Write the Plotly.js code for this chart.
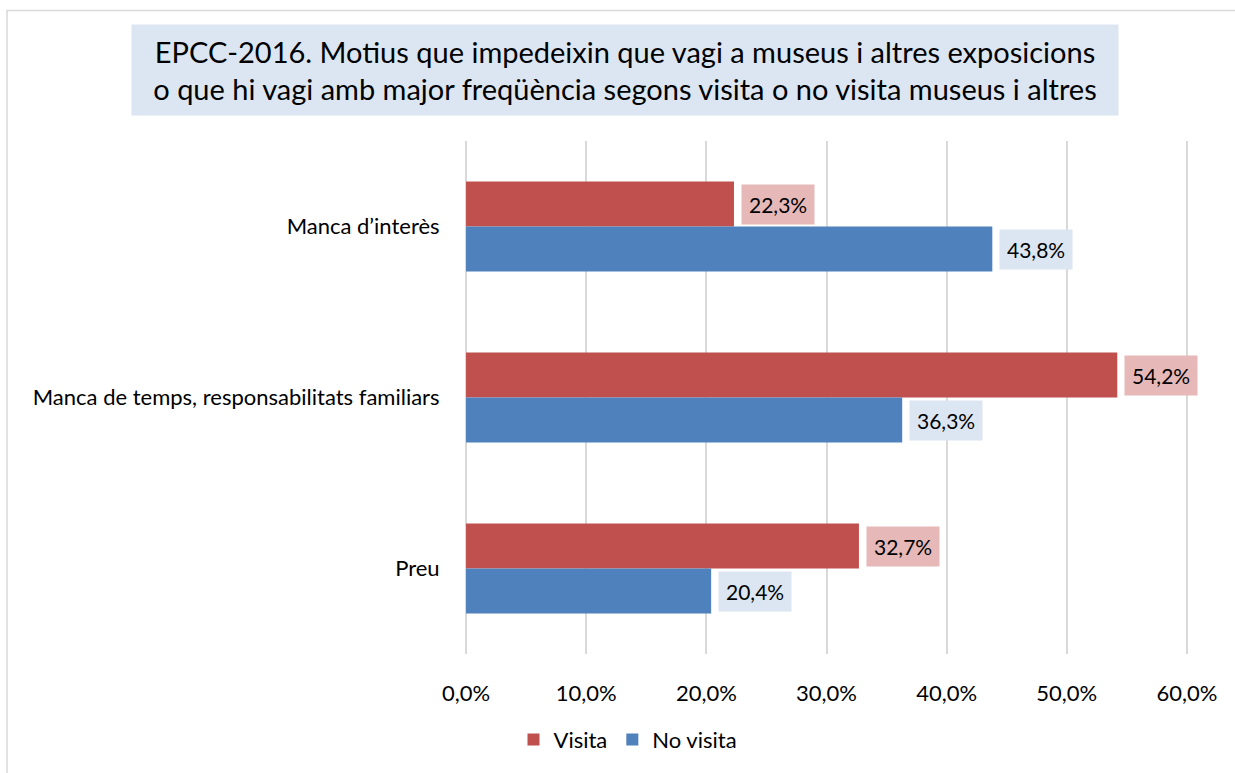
<!DOCTYPE html>
<html>
<head>
<meta charset="utf-8">
<script src="https://cdn.plot.ly/plotly-3.0.1.min.js"></script>
<style>
  html, body { margin: 0; padding: 0; background: #fff; }
  #plot { width: 1235px; height: 773px; }
</style>
</head>
<body>
<div id="plot"></div>
<script>
var categories = ["Manca d\u2019interès", "Manca de temps, responsabilitats familiars", "Preu"];
var visita = [22.3, 54.2, 32.7];
var noVisita = [43.8, 36.3, 20.4];
var tickVals = [0, 10, 20, 30, 40, 50, 60];

var FONT = "Lato, 'Open Sans', sans-serif";

function pct(v) {
    return v.toFixed(1).replace(".", ",") + "%";
}

var visitaTrace = {
    x: visita,
    y: categories,
    name: "Visita",
    type: "bar",
    orientation: "h",
    marker: {color: "#C0504D"},
    hoverinfo: "x"
};

var noVisitaTrace = {
    x: noVisita,
    y: categories,
    name: "No visita",
    type: "bar",
    orientation: "h",
    marker: {color: "#4F81BD"},
    hoverinfo: "x"
};

// value labels with filled boxes, next to each bar
var labels = [];
categories.forEach(function (c, i) {
    labels.push({
        x: visita[i], y: c, xref: "x", yref: "y",
        text: pct(visita[i]), showarrow: false,
        xanchor: "left", xshift: 7, yshift: 22.5,
        bgcolor: "#E6B9B8", borderpad: 7,
        font: {family: FONT, size: 21, color: "#000"}
    });
    labels.push({
        x: noVisita[i], y: c, xref: "x", yref: "y",
        text: pct(noVisita[i]), showarrow: false,
        xanchor: "left", xshift: 7, yshift: -22.5,
        bgcolor: "#DCE6F2", borderpad: 7,
        font: {family: FONT, size: 21, color: "#000"}
    });
});

// title box
labels.push({
    x: (625 - 464) / 725, y: (656 - 70) / 515, xref: "paper", yref: "paper",
    xanchor: "center", yanchor: "middle",
    text: "EPCC-2016. Motius que impedeixin que vagi a museus i altres exposicions<br>o que hi vagi amb major freqüència segons visita o no visita museus i altres",
    showarrow: false, align: "center",
    width: 984, height: 88,
    bgcolor: "#DCE6F2",
    font: {family: FONT, size: 29, color: "#000"}
});

var layout = {
    width: 1235,
    height: 773,
    margin: {l: 464, r: 46, t: 141, b: 117},
    paper_bgcolor: "#fff",
    plot_bgcolor: "#fff",
    barmode: "group",
    bargap: 0.475,
    bargroupgap: 0,
    font: {family: FONT, size: 22, color: "#000"},
    showlegend: true,
    legend: {
        orientation: "h",
        x: (628 - 464) / 725, xanchor: "center",
        y: (656 - 742) / 515, yanchor: "middle",
        font: {family: FONT, size: 22, color: "#000"},
        traceorder: "normal"
    },
    xaxis: {
        range: [-0.17, 60.17],
        tickvals: tickVals,
        ticktext: tickVals.map(pct),
        showgrid: true,
        gridcolor: "#D9D9D9",
        gridwidth: 1.5,
        zeroline: false,
        showline: false,
        ticks: "outside",
        ticklen: 20,
        tickcolor: "rgba(0,0,0,0)",
        tickfont: {family: FONT, size: 22, color: "#000"},
        fixedrange: true
    },
    yaxis: {
        autorange: "reversed",
        showgrid: false,
        zeroline: false,
        showline: false,
        ticks: "outside",
        ticklen: 19,
        tickcolor: "rgba(0,0,0,0)",
        tickfont: {family: FONT, size: 22, color: "#000"},
        fixedrange: true
    },
    annotations: labels,
    shapes: [{
        type: "rect", xref: "paper", yref: "paper",
        x0: (7 - 464) / 725, x1: 1.2,
        y0: -0.4, y1: (656 - 10) / 515,
        line: {color: "#D9D9D9", width: 1.5},
        fillcolor: "rgba(0,0,0,0)",
        layer: "below"
    }]
};

Plotly.newPlot("plot", [visitaTrace, noVisitaTrace], layout, {displayModeBar: false, responsive: false});
</script>
</body>
</html>
